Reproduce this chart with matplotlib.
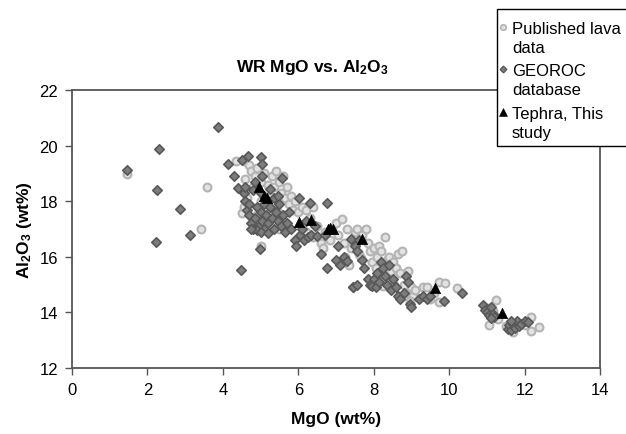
import matplotlib
matplotlib.use('Agg')
import matplotlib.pyplot as plt
from matplotlib.lines import Line2D
from matplotlib.patches import Rectangle

plt.rcParams['font.family'] = ['Liberation Sans', 'DejaVu Sans']
plt.rcParams['mathtext.fontset'] = 'custom'
plt.rcParams['mathtext.rm'] = 'Liberation Sans:bold'
plt.rcParams['mathtext.default'] = 'rm'

# --- data ---
lava_x = [1.45, 3.59, 3.43, 4.36, 4.51, 5.02,
          4.55, 4.7, 4.75, 4.85, 4.9, 5.0, 5.1, 5.2, 5.3, 5.35, 5.4, 5.5, 5.55, 5.6,
          5.65, 5.7, 5.75, 5.8, 5.85, 5.9, 6.0, 6.1, 6.2, 6.3, 6.4, 4.6, 4.65, 4.8,
          5.0, 5.15, 5.25, 5.45, 5.6, 4.55, 5.2, 5.5, 4.9,
          6.2, 6.5, 6.6, 6.65, 6.7, 6.9, 7.0, 7.05, 7.15, 7.2, 7.25, 7.35, 7.4, 7.5,
          7.55, 7.6, 7.7, 7.8, 7.85, 7.9, 7.95, 8.0, 8.05, 8.1, 8.15, 8.2, 8.25, 8.3,
          8.35, 8.4, 8.45, 8.5, 8.55, 8.6, 8.65, 8.7, 8.75, 8.8, 8.85, 8.9, 9.0, 9.05,
          9.1, 9.3, 9.5, 9.72, 9.73, 9.9, 10.2, 7.3, 6.85, 6.4, 7.65, 8.25, 8.95, 9.6,
          9.4, 8.05,
          11.06, 11.25, 11.3, 11.5, 11.6, 11.7, 12.18, 12.37, 12.18, 11.0, 11.15, 12.0]
lava_y = [18.99, 18.52, 16.99, 19.44, 17.59, 16.4,
          19.45, 19.3, 19.1, 18.9, 19.2, 18.7, 19.0, 18.6, 18.9, 18.5, 19.1, 18.7, 18.3, 18.9,
          18.1, 18.5, 17.9, 18.2, 17.7, 18.0, 17.6, 17.8, 17.7, 17.4, 17.8, 18.8, 18.1, 18.5,
          18.0, 17.7, 18.2, 17.6, 17.3, 17.8, 17.4, 17.0, 17.5,
          16.9, 17.1, 16.5, 16.3, 16.9, 17.05, 17.2, 16.8, 17.35, 16.5, 16.0, 15.7, 16.3, 16.9,
          17.0, 16.1, 16.8, 17.0, 16.5, 16.2, 15.8, 16.3, 15.6, 16.0, 16.4, 16.2, 15.4, 16.7,
          15.9, 16.0, 15.5, 15.8, 15.0, 15.6, 16.1, 15.4, 16.2, 15.0, 14.7, 15.5, 14.9, 14.6,
          14.8, 14.9, 14.5, 14.38, 15.1, 15.05, 14.88, 17.0, 16.6, 16.7, 15.95, 14.95, 14.4, 14.7,
          14.9, 15.2,
          13.55, 14.45, 13.75, 13.5, 13.4, 13.3, 13.33, 13.48, 13.85, 14.15, 14.05, 13.55]

georoc_x = [1.47, 2.32, 2.25, 2.23, 2.87, 3.13, 3.88, 4.48, 4.99, 4.13, 4.29, 4.39,
            4.52, 4.67, 5.02, 5.03, 5.56, 6.01, 6.3, 6.75, 6.75, 7.06, 7.44, 7.41,
            4.55, 4.6, 4.65, 4.7, 4.75, 4.8, 4.7, 4.85, 4.9, 4.95, 5.0, 5.05, 5.1, 5.1,
            5.15, 5.2, 5.25, 5.3, 5.35, 5.4, 5.45, 5.5, 5.55, 5.6, 5.65, 5.7, 5.75, 5.8,
            5.9, 5.95, 6.05, 6.1, 6.15, 6.2, 6.25, 6.35, 6.45, 6.5, 6.6, 6.7, 4.6, 4.8,
            4.85, 5.0, 5.05, 5.25, 5.35, 5.45, 4.9, 5.0, 4.75, 5.2,
            7.0, 7.1, 7.2, 7.5, 7.55, 7.6, 7.7, 7.75, 7.85, 7.9, 7.95, 8.0, 8.05, 8.1,
            8.15, 8.2, 8.25, 8.3, 8.35, 8.4, 8.45, 8.5, 8.6, 8.65, 8.7, 8.8, 8.85, 8.9,
            8.95, 9.0, 9.2, 9.3, 9.4, 9.5, 7.45, 7.55, 7.3, 9.87, 10.35,
            10.9, 10.95, 11.0, 11.05, 11.1, 11.15, 11.2, 11.1, 11.55, 11.6, 11.65, 11.7,
            11.75, 11.8, 11.85, 11.9, 12.0, 12.1, 11.65]
georoc_y = [19.12, 19.88, 18.42, 16.53, 17.73, 16.8, 20.68, 15.54, 16.28, 19.33, 18.91, 18.48,
            19.5, 19.61, 19.6, 19.33, 18.84, 18.1, 17.92, 17.92, 15.58, 16.4, 14.9, 16.63,
            18.3, 18.0, 17.7, 17.5, 17.2, 17.0, 17.9, 17.4, 17.8, 17.1, 17.6, 17.3, 17.9, 17.0,
            17.5, 17.2, 17.8, 17.4, 17.0, 17.6, 17.3, 17.9, 17.1, 17.5, 16.9, 17.2, 17.6, 17.0,
            16.6, 16.4, 16.8, 17.0, 16.6, 17.3, 16.7, 16.8, 17.1, 16.75, 16.1, 16.8, 18.5, 18.4,
            18.7, 18.3, 18.9, 18.45, 18.1, 18.2, 16.95, 16.9, 17.0, 16.85,
            15.9, 15.7, 16.0, 16.4, 16.2, 16.6, 15.9, 15.6, 15.2, 15.0, 14.95, 15.2, 14.9, 15.4,
            15.1, 15.8, 15.6, 15.3, 15.0, 15.7, 14.8, 15.2, 14.9, 14.6, 14.5, 14.7, 15.3, 15.1,
            14.3, 14.2, 14.5, 14.6, 14.5, 14.6, 14.9, 15.0, 15.85, 14.42, 14.68,
            14.25, 14.1, 14.0, 13.9, 14.2, 13.95, 13.85, 13.8, 13.4, 13.55, 13.35, 13.6,
            13.45, 13.7, 13.5, 13.6, 13.7, 13.65, 13.7]

tephra_x = [4.95, 5.08, 5.18, 6.03, 6.35, 6.79, 6.85, 6.93, 7.69, 9.63, 11.41]
tephra_y = [18.51, 18.18, 18.11, 17.25, 17.32, 16.99, 17.05, 16.99, 16.63, 14.88, 13.97]

labels = ['Published lava\ndata', 'GEOROC\ndatabase', 'Tephra, This\nstudy']

W, H = 626, 435
fig = plt.figure(figsize=(W / 100, H / 100), dpi=100)
ax = fig.add_axes([72 / W, 1 - 369 / H, 528 / W, 278 / H])

lava_style = dict(marker='o', facecolor='#e2e2e2', edgecolor='#b4b4b4', linewidth=1.5)
geo_style = dict(marker='D', facecolor='#7c7c7c', edgecolor='#585858', linewidth=1.2)
teph_style = dict(marker='^', facecolor='black', edgecolor='black', linewidth=0.5)

ax.scatter(lava_x, lava_y, s=32, zorder=2, **lava_style)
ax.scatter(georoc_x, georoc_y, s=23, zorder=3, **geo_style)
ax.scatter(tephra_x, tephra_y, s=55, zorder=4, **teph_style)

ax.set_xlim(0, 14)
ax.set_ylim(12, 22)
ax.set_xticks(range(0, 15, 2))
ax.set_yticks(range(12, 23, 2))
ax.tick_params(labelsize=12, length=5, width=1, color='#555555', direction='out', pad=5)
for sp in ax.spines.values():
    sp.set_color('#555555')
    sp.set_linewidth(1.3)

ax.set_xlabel('MgO (wt%)', fontsize=12.5, fontweight='bold', labelpad=10)
ax.set_ylabel(r'Al$_2$O$_3$ (wt%)', fontsize=12.5, fontweight='bold', labelpad=4)
fig.text(312 / W, 1 - 68 / H, r'WR MgO vs. Al$_2$O$_3$', fontsize=12.5,
         fontweight='bold', ha='center', va='center')

# legend drawn by hand so markers sit on the first line of each label
fig.patches.append(Rectangle((497 / W, 1 - 147 / H), 140 / W, 137 / H,
                             transform=fig.transFigure, facecolor='white',
                             edgecolor='black', linewidth=1.0, zorder=5))
line_y = [(28, 47), (70, 89), (113, 132)]
handles = [(lava_style, 4.0), (geo_style, 3.4), (teph_style, 6.0)]
for (style, ms), lab, (y1, y2) in zip(handles, labels, line_y):
    fig.add_artist(Line2D([503 / W], [1 - y1 / H], transform=fig.transFigure,
                          marker=style['marker'], markersize=ms, linestyle='none',
                          markerfacecolor=style['facecolor'],
                          markeredgecolor=style['edgecolor'],
                          markeredgewidth=style['linewidth'] * 0.8, zorder=6))
    for txt, yy in zip(lab.split('\n'), (y1, y2)):
        fig.text(512 / W, 1 - (yy + 6) / H, txt, fontsize=12, ha='left',
                 va='baseline', zorder=6)

fig.savefig('out.png', dpi=100)
